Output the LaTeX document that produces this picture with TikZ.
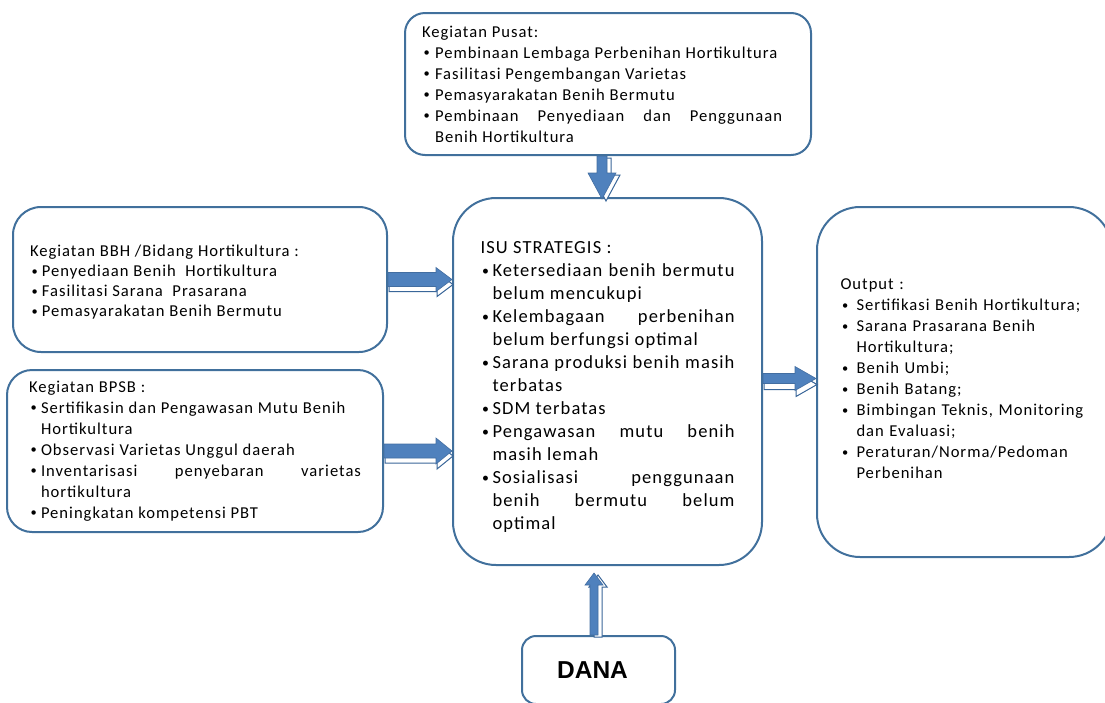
\documentclass[tikz,border=0pt]{standalone}
\usepackage{fontspec}
\usepackage{graphicx}
\setmainfont{Carlito}[LetterSpace=6]
\newfontfamily\danafont{Liberation Sans}
\usetikzlibrary{calc}
\definecolor{boxline}{HTML}{41709C}
\definecolor{arrowfill}{HTML}{4F81BD}
\definecolor{arrowline}{HTML}{3A6699}
% bullet item with hanging indent
\newcommand{\titik}{\raisebox{0.08em}{\scalebox{0.75}{\textbullet}}}
\newcommand{\poin}[1][12pt]{\par\noindent\hangindent=#1\hangafter=1%
  \hspace*{1.5pt}\makebox[\dimexpr#1-1.5pt\relax][l]{\titik}\ignorespaces}
\begin{document}
\begin{tikzpicture}
[x=1pt,y=-1pt,
  box/.style={draw=boxline,line width=2pt,inner sep=0pt,align=justify},
  smalltext/.style={font=\fontsize{16.6}{21}\selectfont},
  largetext/.style={font=\fontsize{18.5}{23}\selectfont},
  shaftw/.store in=\shaftw, headw/.store in=\headw, headl/.store in=\headl,
  shaftw=6pt, headw=12pt, headl=16pt,
  blockarrow/.style={to path={
    ($(\tikztotarget)!\headl!(\tikztostart)$) coordinate (hb)
    ($(\tikztostart)!\shaftw!90:(\tikztotarget)$) -- ($(hb)!\shaftw!90:(\tikztotarget)$)
    -- ($(hb)!\headw!90:(\tikztotarget)$) -- (\tikztotarget)
    -- ($(hb)!\headw!-90:(\tikztotarget)$) -- ($(hb)!\shaftw!-90:(\tikztotarget)$)
    -- ($(\tikztostart)!\shaftw!-90:(\tikztotarget)$) -- cycle}},
  arrowshade/.style={blockarrow,draw=arrowline,line width=1pt,fill=white},
  arrowbody/.style={blockarrow,draw=arrowfill!85!black,line width=0.6pt,fill=arrowfill}]
\useasboundingbox (0,0) rectangle (1105,702);
%% boxes
\node (pusat) at (608,84) [box,smalltext,rounded corners=20pt,
  minimum width=406pt,minimum height=142pt,text width=372pt] {\rightskip=12pt
  \noindent Kegiatan Pusat:
  \poin[13pt] Pembinaan Lembaga Perbenihan Hortikultura
  \poin[13pt] Fasilitasi Pengembangan Varietas
  \poin[13pt] Pemasyarakatan Benih Bermutu
  \poin[13pt] Pembinaan Penyediaan dan Penggunaan\linebreak Benih Hortikultura\par};
\node (isu) at (607.5,381.5) [box,largetext,rounded corners=43pt,
  minimum width=309pt,minimum height=367pt,text width=254pt] {\noindent
  \rule{0pt}{23pt}ISU STRATEGIS :
  \poin Ketersediaan benih bermutu\linebreak belum mencukupi
  \poin Kelembagaan perbenihan\linebreak belum berfungsi optimal
  \poin Sarana produksi benih masih\linebreak terbatas
  \poin SDM terbatas
  \poin Pengawasan mutu benih\linebreak masih lemah
  \poin Sosialisasi penggunaan\linebreak benih bermutu belum\linebreak optimal\par};
\node (bbh) at (200,279.5) [box,font=\fontsize{16.6}{20}\selectfont,rounded corners=28pt,
  minimum width=374pt,minimum height=145pt,text width=340pt] {\noindent
  \rule{0pt}{17.5pt}Kegiatan BBH /Bidang Hortikultura :
  \poin Penyediaan Benih \ Hortikultura
  \poin Fasilitasi Sarana \ Prasarana
  \poin Pemasyarakatan Benih Bermutu\par};
\node (bpsb) at (195,451) [box,smalltext,rounded corners=25pt,
  minimum width=376pt,minimum height=162pt,text width=332pt] {\noindent Kegiatan BPSB :
  \poin Sertifikasin dan Pengawasan Mutu Benih\newline Hortikultura
  \poin Observasi Varietas Unggul daerah
  \poin Inventarisasi penyebaran varietas\linebreak hortikultura
  \poin Peningkatan kompetensi PBT\par};
\node (output) at (964.5,382) [box,smalltext,align=left,rounded corners=43pt,
  minimum width=295pt,minimum height=350pt,text width=248pt] {\noindent Output :
  \poin[16pt] Sertifikasi Benih Hortikultura;
  \poin[16pt] Sarana Prasarana Benih\newline Hortikultura;
  \poin[16pt] Benih Umbi;
  \poin[16pt] Benih Batang;
  \poin[16pt] Bimbingan Teknis, Monitoring\newline dan Evaluasi;
  \poin[16pt] Peraturan/Norma/Pedoman\newline Perbenihan\rule[-7pt]{0pt}{7pt}\par};
\node (dana) at (598.5,670) [box,rounded corners=14pt,
  minimum width=153pt,minimum height=68pt,font=\danafont\bfseries\fontsize{24.5}{28}\selectfont] {DANA\hspace*{12pt}};
%% arrow ends
\coordinate (t1) at (bbh.east -| isu.west);
\coordinate (t2) at (bpsb.east -| isu.west);
\coordinate (s3) at ([yshift=3pt]isu.east);
\coordinate (t3) at (s3 -| output.west);
\coordinate (s4) at ([xshift=-6pt]pusat.south);
\coordinate (t4) at ([yshift=-2pt]s4 |- isu.north);
\coordinate (s5) at ([xshift=-4.5pt]dana.north);
\coordinate (t5) at ([yshift=-7pt]s5 |- isu.south);
%% block arrows
\foreach \s/\t/\sw/\hw/\hl/\dx/\dy in {bbh.east/t1/7/12/16/1/-5, bpsb.east/t2/7/13/16/1/-5,
  s3/t3/5/12/21/1/-6, s4/t4/5/14/26/4/-2, s5/t5/4/9/12/4/-2} {
  \draw[arrowshade,shaftw=\sw pt,headw=\hw pt,headl=\hl pt,
    transform canvas={shift={(\dx pt,\dy pt)}}] (\s) to (\t);
  \draw[arrowbody,shaftw=\sw pt,headw=\hw pt,headl=\hl pt] (\s) to (\t);
}
\end{tikzpicture}
\end{document}
